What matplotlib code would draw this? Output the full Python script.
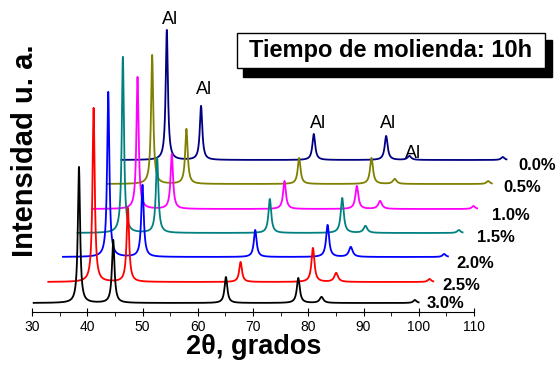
import numpy as np
import matplotlib.pyplot as plt
from matplotlib.patches import Rectangle

plt.rcParams['font.family'] = ['Liberation Sans', 'DejaVu Sans']

# series, bottom curve first (3.0 %) up to 0.0 %
labels = ['3.0%', '2.5%', '2.0%', '1.5%', '1.0%', '0.5%', '0.0%']
colors = ['#000000', '#ff0000', '#0000ff', '#008080', '#ff00ff', '#808000', '#000080']
shift = [0.0, 2.65, 5.3, 7.95, 10.6, 13.25, 15.9]          # horizontal stagger, degrees
baseline = [9, 30, 55, 79, 103, 128, 152]                  # vertical stagger (a.u.)

# peak positions of the bottom pattern (2theta), same reflections for all
peak_pos = [38.5, 44.7, 65.1, 78.2, 82.4, 99.3]
peak_h = [
    [136, 63, 26, 25, 6, 3],
    [174, 74, 20, 34, 9, 3],
    [165, 72, 27, 32, 10, 3],
    [176, 75, 34, 35, 7, 3],
    [132, 55, 28, 23, 8, 3],
    [129, 55, 26, 26, 5, 3],
    [130, 54, 26, 24, 4, 3],
]
peak_w = [0.24, 0.27, 0.3, 0.32, 0.4, 0.35]                 # half widths
x_start, x_end = 30.3, 100.0

# Al reflections labels
al_x = [55.0, 61.1, 81.8, 94.4, 99.0]
al_y = [293, 222, 188, 188, 159]

# percentage labels
pct_x = [101.5, 104.2, 106.9, 110.5, 113.3, 115.4, 118.0]
pct_y = [9, 26, 48, 74, 97, 125, 147]

W, H = 557, 367
fig = plt.figure(figsize=(W / 100, H / 100), dpi=100)
ax = fig.add_axes([32 / W, 55 / H, 442 / W, 312 / H])

for i in range(len(labels)):
    x = np.arange(x_start, x_end, 0.02) + shift[i]
    y = np.zeros_like(x) + baseline[i]
    for p, h, w in zip(peak_pos, peak_h[i], peak_w):
        y += h / (1 + ((x - p - shift[i]) / w) ** 2)
    ax.plot(x, y, color=colors[i], lw=1.3, clip_on=False, zorder=10 - i)
    ax.text(pct_x[i], pct_y[i], labels[i], fontsize=12, fontweight='bold',
            ha='left', va='center', clip_on=False)

for xx, yy in zip(al_x, al_y):
    ax.text(xx, yy, 'Al', fontsize=13, ha='center', va='center', clip_on=False)

ax.set_xlim(30, 110)
ax.set_ylim(0, 312)
for s in ['left', 'right', 'top']:
    ax.spines[s].set_visible(False)
ax.set_yticks([])
ax.set_xticks(np.arange(30, 111, 10))
ax.set_xticks(np.arange(35, 110, 10), minor=True)
ax.tick_params(axis='x', which='major', direction='inout', length=6, labelsize=10, pad=3)
ax.tick_params(axis='x', which='minor', direction='out', length=3)
ax.patch.set_alpha(0)

fig.text(254 / W, 1 - 347 / H, '2θ, grados', fontsize=19.5, fontweight='bold',
         ha='center', va='center')
fig.text(25 / W, 1 - 151 / H, 'Intensidad u. a.', fontsize=21, fontweight='bold',
         ha='center', va='center', rotation=90)

# title box with shadow
fig.patches.append(Rectangle((243 / W, 1 - 77 / H), 309 / W, 37 / H, transform=fig.transFigure,
                             facecolor='black', edgecolor='black', zorder=1))
fig.patches.append(Rectangle((237 / W, 1 - 68 / H), 308 / W, 35 / H, transform=fig.transFigure,
                             facecolor='white', edgecolor='black', lw=1, zorder=2))
fig.text(391 / W, 1 - 51 / H, 'Tiempo de molienda: 10h', fontsize=17, fontweight='bold',
         ha='center', va='center', zorder=3)

fig.savefig('out.png', dpi=100)
